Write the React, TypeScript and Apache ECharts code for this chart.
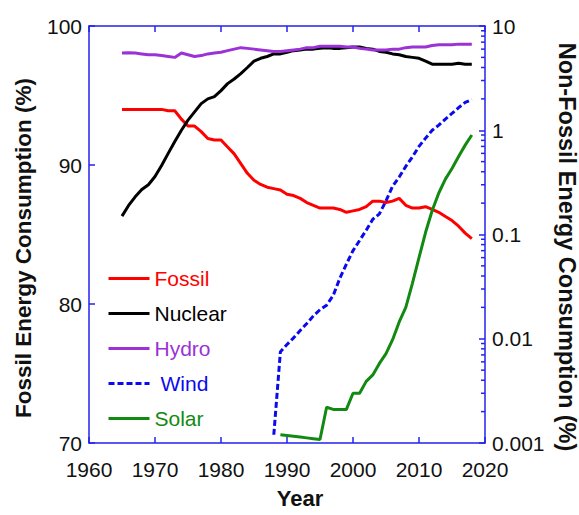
import React, { useEffect, useRef } from "react";
import * as echarts from "echarts";

const years = [
  1965, 1966, 1967, 1968, 1969, 1970, 1971, 1972, 1973, 1974, 1975, 1976, 1977, 1978,
  1979, 1980, 1981, 1982, 1983, 1984, 1985, 1986, 1987, 1988, 1989, 1990, 1991, 1992,
  1993, 1994, 1995, 1996, 1997, 1998, 1999, 2000, 2001, 2002, 2003, 2004, 2005, 2006,
  2007, 2008, 2009, 2010, 2011, 2012, 2013, 2014, 2015, 2016, 2017, 2018,
];

const fossil = [
  94.0, 94.0, 94.0, 94.0, 94.0, 94.0, 94.0, 93.9, 93.9, 93.3, 92.8, 92.8, 92.4, 91.9,
  91.8, 91.8, 91.3, 90.8, 90.1, 89.4, 88.9, 88.6, 88.4, 88.3, 88.2, 87.9, 87.8, 87.6,
  87.3, 87.1, 86.9, 86.9, 86.9, 86.8, 86.6, 86.7, 86.8, 87.0, 87.4, 87.4, 87.3, 87.4,
  87.6, 87.1, 86.9, 86.9, 87.0, 86.8, 86.6, 86.3, 86.0, 85.6, 85.1, 84.7,
];

const nuclear = [
  0.15, 0.19, 0.23, 0.27, 0.3, 0.36, 0.46, 0.6, 0.78, 1.0, 1.25, 1.5, 1.8, 2.0,
  2.1, 2.4, 2.8, 3.1, 3.5, 4.0, 4.6, 4.9, 5.1, 5.4, 5.4, 5.6, 5.8, 5.9,
  6.0, 6.0, 6.1, 6.2, 6.1, 6.1, 6.2, 6.3, 6.3, 6.1, 6.0, 5.7, 5.6, 5.4,
  5.3, 5.1, 5.0, 4.9, 4.6, 4.3, 4.3, 4.3, 4.3, 4.4, 4.3, 4.3,
];

const hydro = [
  5.5, 5.55, 5.5, 5.4, 5.3, 5.3, 5.2, 5.1, 5.0, 5.5, 5.3, 5.1, 5.2, 5.4,
  5.5, 5.6, 5.8, 6.0, 6.2, 6.1, 6.0, 5.9, 5.8, 5.7, 5.7, 5.8, 5.9, 6.0,
  6.2, 6.2, 6.4, 6.4, 6.4, 6.4, 6.3, 6.3, 6.1, 6.0, 5.9, 5.9, 5.9, 6.0,
  6.0, 6.2, 6.3, 6.3, 6.3, 6.5, 6.6, 6.6, 6.6, 6.7, 6.7, 6.7,
];

const windYears = [
  1988, 1989, 1990, 1991, 1992, 1993, 1994, 1995, 1996, 1997, 1998, 1999, 2000, 2001,
  2002, 2003, 2004, 2005, 2006, 2007, 2008, 2009, 2010, 2011, 2012, 2013, 2014, 2015,
  2016, 2017, 2018,
];
const wind = [
  0.0012, 0.0075, 0.0088, 0.0102, 0.012, 0.014, 0.0166, 0.019, 0.021, 0.026, 0.038,
  0.052, 0.07, 0.0875, 0.11, 0.14, 0.158, 0.21, 0.29, 0.356, 0.45, 0.555, 0.7, 0.84,
  1.0, 1.12, 1.28, 1.45, 1.65, 1.85, 1.97,
];

const solarYears = [
  1989, 1990, 1991, 1992, 1993, 1994, 1995, 1996, 1997, 1998, 1999, 2000, 2001, 2002,
  2003, 2004, 2005, 2006, 2007, 2008, 2009, 2010, 2011, 2012, 2013, 2014, 2015, 2016,
  2017, 2018,
];
const solar = [
  0.0012, 0.00118, 0.00116, 0.00114, 0.00112, 0.0011, 0.00108, 0.0022, 0.0021, 0.0021,
  0.0021, 0.003, 0.003, 0.0039, 0.0045, 0.0058, 0.0072, 0.0098, 0.0145, 0.02, 0.034,
  0.06, 0.105, 0.17, 0.25, 0.34, 0.43, 0.56, 0.72, 0.9,
];

const rightMinorTicks = [
  0.002, 0.003, 0.004, 0.005, 0.006, 0.007, 0.008, 0.009,
  0.02, 0.03, 0.04, 0.05, 0.06, 0.07, 0.08, 0.09,
  0.2, 0.3, 0.4, 0.5, 0.6, 0.7, 0.8, 0.9,
  2, 3, 4, 5, 6, 7, 8, 9,
];

const rightTickLabels: Record<string, string> = {
  "0.001": "0.001",
  "0.01": "0.01",
  "0.1": "0.1",
  "1": "1",
  "10": "10",
};

const seriesNames = ["Fossil", "Nuclear", "Hydro", "Wind", "Solar"];
const seriesColors = ["#ff0000", "#000000", "#9a32d6", "#0a0aee", "#128a12"];

const AXIS = "#2323ee";
const FONT = "Liberation Sans, Arial, sans-serif";

const zip = (xs: number[], ys: number[]) => xs.map((x, i) => [x, ys[i]]);

export default function App() {
  const ref = useRef<HTMLDivElement>(null);
  useEffect(() => {
    document.body.style.margin = "0";
    const chart = echarts.init(ref.current!, null, { renderer: "svg" });
    const axisLine = { show: true, lineStyle: { color: AXIS, width: 1.5 } };
    const axisTick = { show: true, inside: true, length: 6, lineStyle: { color: AXIS, width: 1.5 } };
    const labelStyle = { color: "#111", fontSize: 21, fontFamily: FONT };
    const lineSeries = (i: number, data: number[][], yAxisIndex: number, dashed = false) => ({
      name: seriesNames[i],
      type: "line",
      data,
      xAxisIndex: 0,
      yAxisIndex,
      symbol: "none",
      color: seriesColors[i],
      lineStyle: { color: seriesColors[i], width: 3, type: dashed ? [6, 3] : "solid" },
      z: 3,
    });
    chart.setOption({
      animation: false,
      backgroundColor: "#ffffff",
      textStyle: { fontFamily: FONT },
      grid: { left: 89, right: 94, top: 26, bottom: 72 },
      xAxis: [
        {
          type: "value",
          min: 1960,
          max: 2020,
          interval: 10,
          position: "bottom",
          axisLine,
          axisTick,
          axisLabel: { ...labelStyle, margin: 16, formatter: (v: number) => String(v) },
          splitLine: { show: false },
        },
        {
          type: "value",
          min: 1960,
          max: 2020,
          interval: 10,
          position: "top",
          axisLine,
          axisTick,
          axisLabel: { show: false },
          splitLine: { show: false },
        },
      ],
      yAxis: [
        {
          type: "value",
          min: 70,
          max: 100,
          interval: 10,
          position: "left",
          axisLine,
          axisTick,
          axisLabel: { ...labelStyle, margin: 7 },
          splitLine: { show: false },
        },
        {
          type: "log",
          logBase: 10,
          min: 0.001,
          max: 10,
          position: "right",
          axisLine,
          axisTick,
          axisLabel: {
            ...labelStyle,
            margin: 7,
            formatter: (v: number) => rightTickLabels[String(v)] ?? String(v),
          },
          splitLine: { show: false },
        },
      ],
      legend: {
        orient: "vertical",
        left: 102,
        top: 263,
        itemWidth: 41,
        itemHeight: 14,
        itemGap: 14,
        itemStyle: { opacity: 0 },
        lineStyle: { width: 3 },
        textStyle: { fontSize: 21, fontFamily: FONT, lineHeight: 20 },
        data: seriesNames.map((n, i) => ({
          name: n,
          itemStyle: { opacity: 0 },
          textStyle: { color: seriesColors[i], padding: n === "Wind" ? [0, 0, 0, 6] : 0 },
        })),
      },
      graphic: [
        {
          type: "text",
          x: 23,
          y: 248,
          rotation: Math.PI / 2,
          style: {
            text: "Fossil Energy Consumption (%)",
            fill: "#111",
            font: `bold 22.5px ${FONT}`,
            textAlign: "center",
            textVerticalAlign: "middle",
          },
        },
        {
          type: "text",
          x: 567,
          y: 247,
          rotation: -Math.PI / 2,
          style: {
            text: "Non-Fossil Energy Consumption (%)",
            fill: "#111",
            font: `bold 23.5px ${FONT}`,
            textAlign: "center",
            textVerticalAlign: "middle",
          },
        },
        {
          type: "text",
          x: 300,
          y: 498,
          style: {
            text: "Year",
            fill: "#111",
            font: `bold 22px ${FONT}`,
            textAlign: "center",
            textVerticalAlign: "middle",
          },
        },
      ],
      series: [
        lineSeries(0, zip(years, fossil), 0),
        lineSeries(1, zip(years, nuclear), 1),
        lineSeries(2, zip(years, hydro), 1),
        lineSeries(3, zip(windYears, wind), 1, true),
        lineSeries(4, zip(solarYears, solar), 1),
        {
          name: "minorTicks",
          type: "custom",
          xAxisIndex: 0,
          yAxisIndex: 1,
          silent: true,
          clip: false,
          data: rightMinorTicks.map((v) => [2020, v]),
          renderItem: (params: any, api: any) => {
            const p = api.coord([api.value(0), api.value(1)]);
            return {
              type: "line",
              shape: { x1: p[0] - 4, y1: p[1], x2: p[0], y2: p[1] },
              style: { stroke: AXIS, lineWidth: 1.5 },
            };
          },
          z: 4,
        },
      ],
    });
    return () => chart.dispose();
  }, []);
  return <div ref={ref} style={{ width: 579, height: 515 }} />;
}
